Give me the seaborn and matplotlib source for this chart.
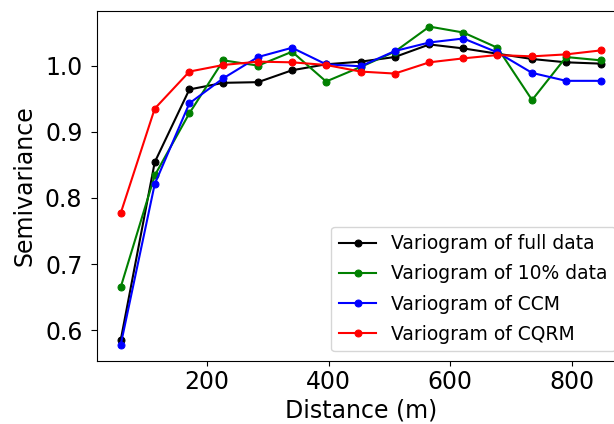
import matplotlib
matplotlib.use("Agg")
import matplotlib.pyplot as plt
import seaborn as sns
import pandas as pd

distance = [58, 114, 171, 227, 284, 340, 396, 453, 509, 566, 622, 678, 735, 791, 848]
full_data = [0.585, 0.854, 0.964, 0.974, 0.975, 0.993, 1.002, 1.006, 1.013, 1.032, 1.026, 1.018, 1.010, 1.005, 1.003]
ten_pct = [0.665, 0.834, 0.928, 1.008, 1.000, 1.021, 0.976, 0.998, 1.021, 1.059, 1.050, 1.027, 0.948, 1.013, 1.008]
ccm = [0.578, 0.821, 0.943, 0.981, 1.013, 1.027, 1.002, 0.999, 1.022, 1.035, 1.041, 1.020, 0.989, 0.977, 0.977]
cqrm = [0.777, 0.935, 0.991, 1.001, 1.006, 1.005, 1.001, 0.991, 0.988, 1.005, 1.011, 1.016, 1.014, 1.017, 1.023]

series = [
    ("Variogram of full data", full_data, "black"),
    ("Variogram of 10% data", ten_pct, "green"),
    ("Variogram of CCM", ccm, "blue"),
    ("Variogram of CQRM", cqrm, "red"),
]

fig = plt.figure(figsize=(6.14, 4.24), dpi=100)
ax = fig.add_axes([0.1575, 0.1493, 0.86, 0.8255])

for name, vals, col in series:
    df = pd.DataFrame({"Distance": distance, "Semivariance": vals})
    sns.lineplot(data=df, x="Distance", y="Semivariance", ax=ax, color=col,
                 marker="o", markersize=5, markeredgecolor=col, linewidth=1.5,
                 label=name, sort=False)

ax.set_xlabel("Distance (m)", fontsize=17, labelpad=3)
ax.set_ylabel("Semivariance", fontsize=17, labelpad=6)
ax.tick_params(labelsize=17)
ax.tick_params(axis="y", length=4.3, pad=6)
ax.set_xticks([200, 400, 600, 800])
ax.set_yticks([0.6, 0.7, 0.8, 0.9, 1.0])
ax.legend(loc="lower right", fontsize=13.5, labelspacing=0.6)

fig.savefig("out.png", dpi=100)
